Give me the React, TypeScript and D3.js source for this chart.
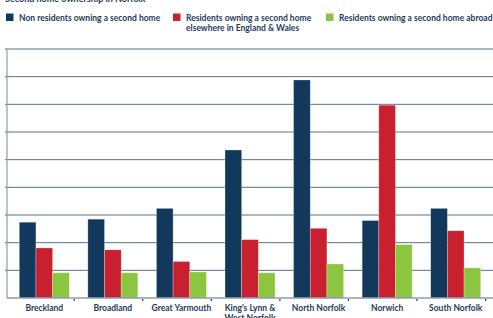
import React, { useEffect, useRef } from 'react';
import * as d3 from 'd3';

const categories = ['Breckland', 'Broadland', 'Great Yarmouth', "King's Lynn & West Norfolk", 'North Norfolk', 'Norwich', 'South Norfolk'];
const seriesNames = ['Non residents owning a second home', 'Residents owning a second home elsewhere in England & Wales', 'Residents owning a second home abroad'];
const nonResidents = [2.74, 2.85, 3.24, 5.35, 7.88, 2.8, 3.24];
const residentsEW = [1.81, 1.74, 1.32, 2.11, 2.52, 6.97, 2.43];
const residentsAbroad = [0.91, 0.91, 0.94, 0.91, 1.23, 1.93, 1.09];
const yTicks = [0, 1, 2, 3, 4, 5, 6, 7, 8, 9];

const colors = ['#12385c', '#c8202f', '#8cc540'];
const textColor = '#1e3a5c';
const font = 'Lato, "Open Sans", sans-serif';

const App: React.FC = () => {
    const svgRef = useRef<SVGSVGElement>(null);

    useEffect(() => {
        if (!svgRef.current) return;
        const width = 493;
        const height = 318;

        const svg = d3.select(svgRef.current);
        svg.selectAll('*').remove();
        svg.attr('width', width).attr('height', height);

        const series = [nonResidents, residentsEW, residentsAbroad];

        const x0 = d3.scaleBand<string>().domain(categories).range([10, 490]);
        const x1 = d3.scaleBand<number>()
            .domain([0, 1, 2])
            .range([x0.bandwidth() / 2 - 25, x0.bandwidth() / 2 + 25]);
        const y = d3.scaleLinear().domain([0, 9]).range([298, 49]);

        // title, mostly cut off at the top edge
        svg.append('text')
            .attr('x', 5)
            .attr('y', 1.5)
            .style('font-family', font)
            .style('font-weight', 700)
            .style('font-size', '9px')
            .style('fill', textColor)
            .text('Second home ownership in Norfolk');

        // gridlines
        svg.append('g')
            .selectAll('line')
            .data(yTicks.filter(t => t > 0))
            .enter()
            .append('line')
            .attr('x1', 5)
            .attr('x2', width)
            .attr('y1', d => y(d))
            .attr('y2', d => y(d))
            .style('stroke', '#54728f')
            .style('stroke-width', 1);

        // bars
        const groups = svg.append('g')
            .selectAll('g')
            .data(categories)
            .enter()
            .append('g')
            .attr('transform', d => `translate(${x0(d)},0)`);

        groups.selectAll('rect')
            .data((_, i) => series.map((s, k) => ({ k, v: s[i] })))
            .enter()
            .append('rect')
            .attr('x', d => x1(d.k)!)
            .attr('width', x1.bandwidth())
            .attr('y', d => y(d.v))
            .attr('height', d => y(0) - y(d.v))
            .style('fill', d => colors[d.k])
            .style('stroke', 'rgba(255,255,255,0.45)')
            .style('stroke-width', 0.6);

        // axes
        svg.append('line')
            .attr('x1', 7).attr('x2', 7)
            .attr('y1', y(9)).attr('y2', y(0))
            .style('stroke', '#8a9db2').style('stroke-width', 1.2);
        svg.append('line')
            .attr('x1', 7).attr('x2', width)
            .attr('y1', y(0)).attr('y2', y(0))
            .style('stroke', '#8a9db2').style('stroke-width', 1.5);

        // category ticks
        svg.append('g')
            .selectAll('rect')
            .data(categories)
            .enter()
            .append('rect')
            .attr('x', d => x0(d)! + x0.step() - 5)
            .attr('y', y(0) + 1)
            .attr('width', 1.2)
            .attr('height', 2)
            .style('fill', textColor);

        // category labels
        const labels = svg.append('g')
            .selectAll('text')
            .data(categories)
            .enter()
            .append('text')
            .attr('x', d => x0(d)! + x0.bandwidth() / 2)
            .attr('y', 311)
            .attr('text-anchor', 'middle')
            .style('font-family', font)
            .style('font-weight', 700)
            .style('font-size', '8.5px')
            .style('fill', textColor);

        labels.each(function (d) {
            const t = d3.select(this);
            const parts = d.startsWith("King's") ? ["King's Lynn &", 'West Norfolk'] : [d];
            parts.forEach((p, i) => {
                t.append('tspan')
                    .attr('x', x0(d)! + x0.bandwidth() / 2)
                    .attr('dy', i === 0 ? 0 : 10)
                    .text(p);
            });
        });

        // legend
        const legendItems = [
            { x: 6, lines: [seriesNames[0]] },
            { x: 173, lines: ['Residents owning a second home', 'elsewhere in England & Wales'] },
            { x: 326, lines: [seriesNames[2]] },
        ];
        const legend = svg.append('g');
        legendItems.forEach((item, i) => {
            legend.append('rect')
                .attr('x', item.x)
                .attr('y', 13.5)
                .attr('width', 7.5)
                .attr('height', 7.5)
                .style('fill', colors[i]);
            const t = legend.append('text')
                .attr('x', item.x + 13)
                .attr('y', 20.5)
                .style('font-family', font)
                .style('font-weight', 700)
                .style('font-size', '8.5px')
                .style('fill', textColor);
            item.lines.forEach((line, j) => {
                t.append('tspan')
                    .attr('x', item.x + 13)
                    .attr('dy', j === 0 ? 0 : 10)
                    .text(line);
            });
        });
    }, []);

    return (
        <div style={{ position: 'fixed', left: 0, top: 0, background: '#fff' }}>
            <svg ref={svgRef} style={{ display: 'block' }}></svg>
        </div>
    );
};

export default App;
